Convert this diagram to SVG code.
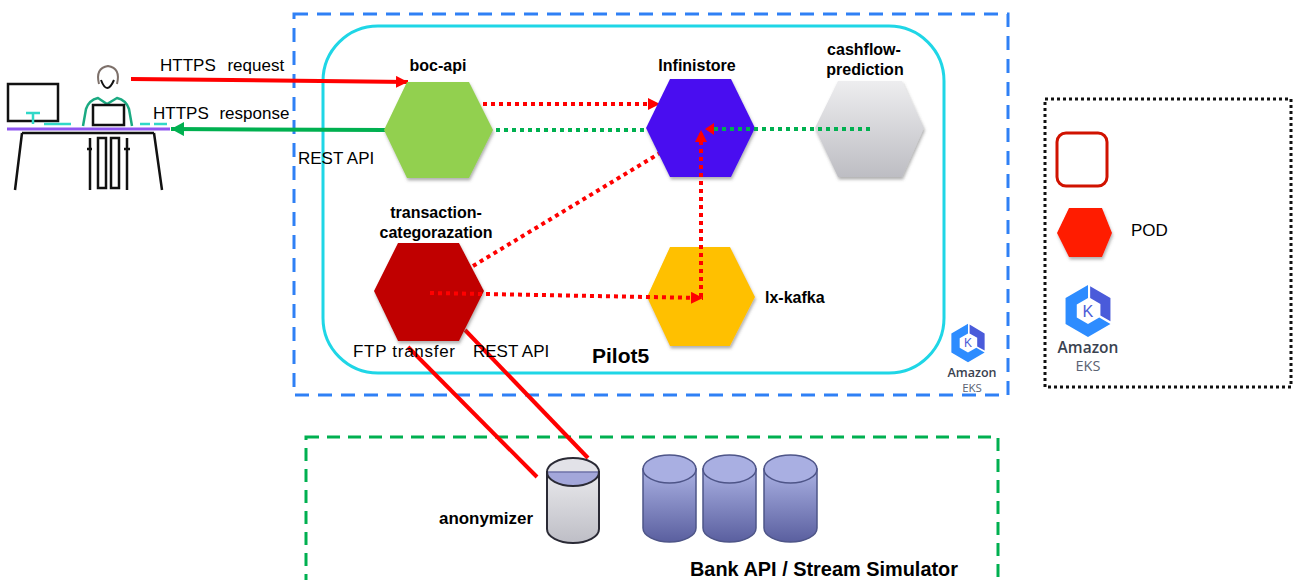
<svg xmlns="http://www.w3.org/2000/svg" width="1293" height="580" viewBox="0 0 1293 580">
  <defs>
    <style>
      .t{font-family:"Liberation Sans",Arial,sans-serif;font-size:17px;fill:#000}
      .b{font-weight:bold;font-size:16px}
      .dotR{fill:none;stroke:#FF0000;stroke-width:4;stroke-dasharray:4 4}
      .dotG{fill:none;stroke:#00B050;stroke-width:4;stroke-dasharray:4 4}
      .solR{fill:none;stroke:#FF0000;stroke-width:4}
      .ink{fill:none;stroke:#111;stroke-width:2.5}
      .hex{filter:url(#shadow)}
      .amz{font-family:"Open Sans","Liberation Sans",sans-serif;font-weight:600;fill:#3A4250}
      .eks{font-family:"Open Sans","Liberation Sans",sans-serif;fill:#5A6272}
    </style>
    <marker id="arrR" markerUnits="userSpaceOnUse" markerWidth="14" markerHeight="14" refX="12" refY="6" orient="auto">
      <path d="M0,0 L12,6 L0,12 z" fill="#FF0000"/>
    </marker>
    <marker id="arrG" markerUnits="userSpaceOnUse" markerWidth="16" markerHeight="16" refX="13" refY="7" orient="auto">
      <path d="M0,0 L13,7 L0,14 z" fill="#00B050"/>
    </marker>
    <filter id="shadow" x="-20%" y="-20%" width="140%" height="150%">
      <feDropShadow dx="1" dy="2.5" stdDeviation="1.5" flood-color="#555" flood-opacity="0.45"/>
    </filter>
    <linearGradient id="greyHex" x1="0" y1="0" x2="0" y2="1">
      <stop offset="0" stop-color="#EDEDEF"/>
      <stop offset="1" stop-color="#BDBDC3"/>
    </linearGradient>
    <linearGradient id="greyCyl" x1="0" y1="0" x2="0" y2="1">
      <stop offset="0" stop-color="#E9E9EC"/>
      <stop offset="1" stop-color="#BEBEC6"/>
    </linearGradient>
    <linearGradient id="blueCyl" x1="0" y1="0" x2="0" y2="1">
      <stop offset="0" stop-color="#AAB1E3"/>
      <stop offset="1" stop-color="#5A5F9F"/>
    </linearGradient>
    <symbol id="eksIcon" viewBox="-50 -50 100 100">
      <polygon points="0,-48 -41.57,-24 -41.57,24 0,48 41.57,24 20.8,12 0,24 -20.8,12 -20.8,-12 0,-24" fill="#2D8CFF"/>
      <polygon points="4,-46 41.57,-24 41.57,19 23,8.5 23,-13 4,-24" fill="#4A5BDA"/>
      <text x="0" y="11" text-anchor="middle" font-family="Liberation Sans,Arial,sans-serif" font-size="30" fill="#4B5BD8">K</text>
    </symbol>
  </defs>

  <rect width="1293" height="580" fill="#FFFFFF"/>

  <!-- cluster boundaries -->
  <g id="cluster-eks">
    <rect x="294" y="14" width="714" height="381" fill="none" stroke="#2F80F5" stroke-width="3" stroke-dasharray="14 9"/>
  </g>
  <g id="namespace-pilot5">
    <rect x="323" y="26" width="621" height="347" rx="55" ry="55" fill="none" stroke="#1FD6E6" stroke-width="3"/>
    <text class="t" x="592" y="363" style="font-weight:bold;font-size:21px">Pilot5</text>
  </g>
  <g id="bank-zone">
    <rect x="306" y="437" width="692" height="160" fill="none" stroke="#00B050" stroke-width="3" stroke-dasharray="13 8"/>
    <text class="t" x="690" y="576" style="font-weight:bold;font-size:20px" textLength="268" lengthAdjust="spacingAndGlyphs">Bank API / Stream Simulator</text>
  </g>

  <!-- user at desk -->
  <g id="user">
    <rect x="8" y="84" width="50" height="37" class="ink"/>
    <path d="M26,113 H40 M33,113 V124 M44,124 H71" fill="none" stroke="#30D8C8" stroke-width="2.5"/>
    <path d="M140,124 H150 M154,124 H167" fill="none" stroke="#30D8C8" stroke-width="2.5"/>
    <path d="M99,84 Q95,68 108,66 Q121,68 117,84" fill="none" stroke="#7D706A" stroke-width="2"/>
    <path d="M101,80 Q107,96 114,80" fill="none" stroke="#111" stroke-width="2"/>
    <path d="M83,126 L86,109 Q89,100 98,98 L107,104 L117,98 Q126,100 129,109 L132,126" fill="none" stroke="#1BAA82" stroke-width="2.5"/>
    <rect x="93" y="105" width="31" height="20" class="ink"/>
    <line x1="7" y1="129" x2="170" y2="129" stroke="#8E55F0" stroke-width="3"/>
    <path d="M22,133 H154 M22,133 L15,190 M154,133 L162,190" class="ink"/>
    <path d="M90,138 V190 M127,138 V190 M98,138 H106 V188 H98 Z M111,138 H119 V188 H111 Z M87,149 H92 M124,149 H130" class="ink" stroke-width="2"/>
  </g>

  <!-- connectors -->
  <g id="connectors">
    <line x1="131" y1="79" x2="408" y2="82" class="solR" marker-end="url(#arrR)"/>
    <line x1="385" y1="130" x2="171" y2="129" stroke="#00B050" stroke-width="4" marker-end="url(#arrG)"/>
    <line x1="496" y1="130" x2="646" y2="130" class="dotG"/>
    <line x1="483" y1="104" x2="660" y2="104" class="dotR" marker-end="url(#arrR)"/>
    <line x1="473" y1="266" x2="660" y2="153" class="dotR"/>
    <line x1="408" y1="347" x2="537" y2="477" class="solR"/>
    <line x1="465" y1="330" x2="588" y2="458" class="solR"/>
  </g>

  <!-- pods -->
  <g id="boc-api">
    <polygon class="hex" points="384,130 407,82 469,82 493,130 469,178 407,178" fill="#92D050"/>
    <text class="t b" x="438" y="71" text-anchor="middle">boc-api</text>
  </g>
  <g id="infinistore">
    <polygon class="hex" points="646,128 670,79 731,79 755,128 731,177 670,177" fill="#4A0BF0"/>
    <text class="t b" x="697" y="71" text-anchor="middle">Infinistore</text>
  </g>
  <g id="cashflow-prediction">
    <polygon class="hex" points="815,128 838,81 902,81 924,128 902,177 838,177" fill="url(#greyHex)"/>
    <text class="t b" x="864" y="55" text-anchor="middle">cashflow-</text>
    <text class="t b" x="865" y="75" text-anchor="middle">prediction</text>
  </g>
  <g id="transaction-categorazation">
    <polygon class="hex" points="374,291 398,243 459,243 484,291 459,341 398,341" fill="#C00000"/>
    <text class="t b" x="436" y="218" text-anchor="middle">transaction-</text>
    <text class="t b" x="436" y="238" text-anchor="middle">categorazation</text>
  </g>
  <g id="lx-kafka">
    <polygon class="hex" points="647,297 670,247 730,247 755,297 730,346 670,346" fill="#FFC000"/>
    <text class="t b" x="765" y="303">lx-kafka</text>
  </g>

  <!-- flows drawn over the pods -->
  <g id="connectors-front">
    <line x1="430" y1="293" x2="703" y2="298" class="dotR" marker-end="url(#arrR)"/>
    <line x1="701" y1="297" x2="701" y2="130" class="dotR" marker-end="url(#arrR)"/>
    <line x1="870" y1="129" x2="713" y2="129" class="dotG"/>
    <path d="M714,123 L705,129 L714,135 z" fill="#FF0000"/>
  </g>

  <!-- connector labels -->
  <g id="labels">
    <text class="t" x="160" y="71" word-spacing="7">HTTPS request</text>
    <text class="t" x="153" y="119" word-spacing="6">HTTPS response</text>
    <text class="t" x="298" y="164">REST API</text>
    <text class="t" x="353" y="357" textLength="102">FTP transfer</text>
    <text class="t" x="473" y="357">REST API</text>
  </g>

  <!-- data stores -->
  <g id="anonymizer">
    <path d="M547,472 V529 A26,14 0 0 0 599,529 V472 Z" fill="url(#greyCyl)" stroke="#2A2A35" stroke-width="2"/>
    <path d="M547,472 A26,14 0 0 1 599,472 Z" fill="#E2E2E8"/>
    <path d="M547,472 A26,14 0 0 0 599,472 Z" fill="#A3A7DA"/>
    <line x1="547" y1="472" x2="599" y2="472" stroke="#6E72A8" stroke-width="1.5"/>
    <ellipse cx="573" cy="472" rx="26" ry="14" fill="none" stroke="#2A2A35" stroke-width="2"/>
    <text class="t" x="439" y="524" style="font-weight:bold;font-size:17px" textLength="94" lengthAdjust="spacingAndGlyphs">anonymizer</text>
  </g>
  <g id="bank-stores">
    <g stroke="#4E5588" stroke-width="1.5">
      <path d="M643,469 V528 A26.5,14 0 0 0 696,528 V469 Z" fill="url(#blueCyl)"/>
      <ellipse cx="669.5" cy="469" rx="26.5" ry="14" fill="#A9AFE2"/>
      <path d="M703,469 V528 A26.5,14 0 0 0 756,528 V469 Z" fill="url(#blueCyl)"/>
      <ellipse cx="729.5" cy="469" rx="26.5" ry="14" fill="#A9AFE2"/>
      <path d="M764,469 V528 A26.5,14 0 0 0 817,528 V469 Z" fill="url(#blueCyl)"/>
      <ellipse cx="790.5" cy="469" rx="26.5" ry="14" fill="#A9AFE2"/>
    </g>
  </g>

  <!-- platform badge -->
  <g id="eks-badge">
    <use href="#eksIcon" x="948" y="323" width="40" height="40"/>
    <text class="amz" x="972" y="377" font-size="12.5" text-anchor="middle">Amazon</text>
    <text class="eks" x="972" y="392" font-size="11.5" text-anchor="middle">EKS</text>
  </g>

  <!-- legend -->
  <g id="legend">
    <rect x="1045" y="99" width="246" height="288" fill="none" stroke="#111" stroke-width="3" stroke-dasharray="3 3"/>
    <rect x="1057" y="133" width="50" height="53" rx="9" ry="9" fill="#FFFFFF" stroke="#D01200" stroke-width="3"/>
    <polygon class="hex" points="1057,233 1069,208 1102,208 1112,233 1102,257 1069,257" fill="#FF1A00"/>
    <text class="t" x="1131" y="236">POD</text>
    <use href="#eksIcon" x="1061" y="284" width="54" height="54"/>
    <text class="amz" x="1088" y="353" font-size="15.5" text-anchor="middle">Amazon</text>
    <text class="eks" x="1088" y="371" font-size="14.5" text-anchor="middle">EKS</text>
  </g>
</svg>
